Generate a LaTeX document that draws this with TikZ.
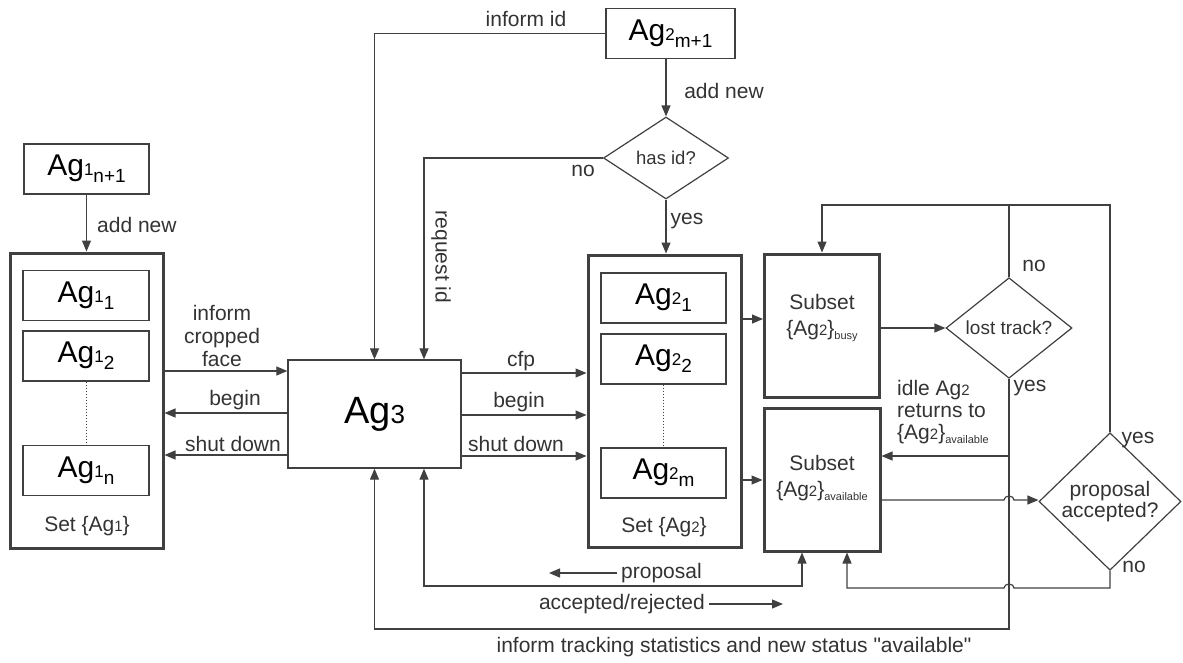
\documentclass[tikz,border=0pt]{standalone}
\usepackage{fontspec}
\setmainfont{Liberation Sans}
\usetikzlibrary{arrows.meta,shapes.geometric}
\definecolor{ln}{HTML}{404040}
\definecolor{tx}{HTML}{333333}
\newcommand{\fs}[1]{\fontsize{#1}{#1}\selectfont}
% agent name with index and subscript
\newcommand{\agtxt}[2]{{\fs{30}Ag}{\fs{17}#1}\raisebox{-7pt}{\fs{19}#2}}
\newcommand{\agset}[1]{\{Ag{\fs{15}#1}\}}
\newcommand{\sub}[1]{\raisebox{-4pt}{\fs{11}#1}}

\begin{document}
\begin{tikzpicture}[x=1pt,y=-1pt,
  agbox/.style={draw=ln,line width=1.3pt,inner sep=0pt,minimum width=126pt,minimum height=50pt},
  setbox/.style={draw=ln,line width=3pt,inner sep=0pt},
  dec/.style={diamond,draw=ln,line width=1.2pt,inner sep=0pt,text=tx,align=center},
  arr/.style={draw=ln,line width=1.2pt,-{Triangle[length=11pt,width=9pt]}},
  ln/.style={draw=ln,line width=1.2pt},
  lbl/.style={text=tx,font=\fs{21},inner sep=0pt},
  dots/.style={draw=ln,line width=1pt,dotted}]
\useasboundingbox (0,0) rectangle (1183,662);

% ---- set of face detectors
\node[agbox,minimum width=125pt] (a1new) at (86.5,169) {\agtxt{1}{n+1}};
\node[setbox,minimum width=153pt,minimum height=295pt] (set1) at (86.5,400.5) {};
\node[agbox] (a11) at (86,295.5) {\agtxt{1}{1}};
\node[agbox] (a12) at (86,356) {\agtxt{1}{2}};
\node[agbox] (a1n) at (86,470.5) {\agtxt{1}{n}};
\node[lbl] (set1t) at (87,526) {Set \agset{1}};
\draw[dots] (a12.south) -- (a1n.north);

% ---- coordinator
\node[draw=ln,line width=1.3pt,minimum width=173pt,minimum height=108pt,inner sep=0pt] (ag3) at (374.5,414) {{\fs{38}Ag}{\fs{26}3}};

% ---- set of trackers
\node[agbox,minimum width=129pt] (a2new) at (670.5,33.5) {\agtxt{2}{m+1}};
\node[dec,minimum width=125pt,minimum height=82pt,font=\fs{18.5}] (hasid) at (666,158) {has id?};
\node[setbox,minimum width=153pt,minimum height=292pt] (set2) at (664.5,401) {};
\node[agbox,minimum width=125pt] (a21) at (663.5,298) {\agtxt{2}{1}};
\node[agbox,minimum width=125pt] (a22) at (663.5,359) {\agtxt{2}{2}};
\node[agbox,minimum width=125pt] (a2m) at (663.5,473) {\agtxt{2}{m}};
\node[lbl] (set2t) at (664,527) {Set \agset{2}};
\draw[dots] (a22.south) -- (a2m.north);

\node[setbox,minimum width=115pt,minimum height=143pt] (busy) at (822,325.5) {};
\node[lbl,align=center] (busyt) at (822,318) {Subset\\[5pt]\agset{2}\sub{busy}};
\node[setbox,minimum width=116pt,minimum height=143pt] (avail) at (822,479.5) {};
\node[lbl,align=center] (availt) at (822,478) {Subset\\[5pt]\agset{2}\sub{available}};

\node[dec,minimum width=126pt,minimum height=83pt,font=\fs{19}] (lost) at (1009,328) {lost track?};
\node[dec,minimum width=142pt,minimum height=93pt,font=\fs{21}] (prop) at (1110,501.5) {proposal\\[0pt]accepted?};

% ---- connectors around the face detectors
\draw[arr] (a1new) -- (set1);
\node[lbl,anchor=west] (l1) at (97,225) {add new};
\draw[arr] (set1.east |- 0,371) -- (ag3.west |- 0,371);
\node[lbl,align=center] (l2) at (222,336) {inform\\[2pt]cropped\\[2pt]face};
\draw[arr] (ag3.west |- 0,413) -- (set1.east |- 0,413);
\node[lbl] (l3) at (235,400) {begin};
\draw[arr] (ag3.west |- 0,455) -- (set1.east |- 0,455);
\node[lbl] (l4) at (233,444) {shut down};

% ---- coordinator to trackers
\draw[arr] (ag3.east |- 0,373) -- (set2.west |- 0,373);
\node[lbl] (l5) at (521,361) {cfp};
\draw[arr] (ag3.east |- 0,415) -- (set2.west |- 0,415);
\node[lbl] (l6) at (519,402) {begin};
\draw[arr] (ag3.east |- 0,456) -- (set2.west |- 0,456);
\node[lbl] (l7) at (516,444) {shut down};

% ---- new tracker
\draw[arr] (a2new.west) -| (ag3.north);
\node[lbl] (l8) at (526,19) {inform id};
\draw[arr] (a2new.south -| hasid.north) -- (hasid.north);
\node[lbl] (l9) at (724,91) {add new};
\draw[arr] (hasid.west) -| ([xshift=49.5pt]ag3.north);
\node[lbl] (l10) at (583,171) {no};
\node[lbl,rotate=-90] (l11) at (441,257) {request id};
\draw[arr] (hasid.south) -- (hasid.south |- set2.north);
\node[lbl] (l12) at (687,221) {yes};

% ---- tracker subsets
\draw[arr] (set2.east |- 0,319) -- (busy.west |- 0,319);
\draw[arr] (set2.east |- 0,480) -- (avail.west |- 0,480);
\draw[arr] (busy.east |- lost.west) -- (lost.west);
\draw[arr] (prop.north) -- (prop.north |- 0,205) -| (busy.north);
\draw[ln] (lost.north) -- (lost.north |- 0,205);
\node[lbl] (l13) at (1034,266) {no};
\node[lbl] (l14) at (1138,440) {yes};
\draw[arr] (lost.south) -- (lost.south |- 0,629) -| (ag3.south);
\node[lbl] (l15) at (1030,388) {yes};
\draw[arr] (lost.south |- 0,456) -- (avail.east |- 0,456);
\node[lbl,align=left,anchor=north west] (l16) at (897,380) {idle Ag{\fs{15}2}\\[1pt]returns to\\[1pt]\agset{2}\sub{available}};

% hop over the vertical line of the tracking branch
\draw[arr] (avail.east |- 0,500) -- ([xshift=-5pt]lost.south |- 0,500)
  arc[start angle=180,end angle=0,x radius=5pt,y radius=4pt] -- (prop.west |- 0,500);
\draw[arr] (prop.south) -- (prop.south |- 0,588) -- ([xshift=5pt]lost.south |- 0,588)
  arc[start angle=0,end angle=180,x radius=5pt,y radius=4pt] -| ([xshift=25pt]avail.south);
\node[lbl] (l17) at (1134,567) {no};

% ---- proposal loop
\draw[ln,{Triangle[length=11pt,width=9pt]}-{Triangle[length=11pt,width=9pt]}]
  ([xshift=49.5pt]ag3.south) |- (802,586) -- ([xshift=-20pt]avail.south);
\coordinate (p1) at (617,573);
\coordinate (p2) at (549,573);
\draw[arr] (p1) -- (p2);
\node[lbl,anchor=west] (l18) at (621,573) {proposal};
\node[lbl,anchor=east] (l19) at (705,604) {accepted/rejected};
\coordinate (q1) at (709,604);
\coordinate (q2) at (783,604);
\draw[arr] (q1) -- (q2);
\node[lbl] (l20) at (734,647) {inform tracking statistics and new status \textquotedbl available\textquotedbl};
\end{tikzpicture}
\end{document}
